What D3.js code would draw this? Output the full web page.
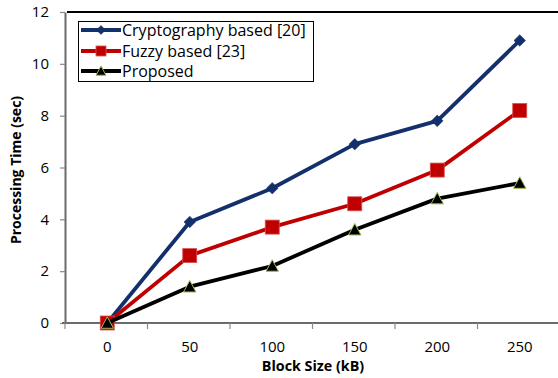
<!DOCTYPE html>
<html>
<head>
<meta charset="utf-8">
<script src="https://cdn.jsdelivr.net/npm/d3@7"></script>
<style>
  html, body { margin: 0; padding: 0; background: #fff; }
  svg { display: block; font-family: "Open Sans", sans-serif; }
</style>
</head>
<body>
<svg id="chart" width="558" height="378"></svg>
<script>
const categories = ["0", "50", "100", "150", "200", "250"];
const cryptoValues = [0, 3.9, 5.2, 6.9, 7.8, 10.9];
const fuzzyValues = [0, 2.6, 3.7, 4.6, 5.9, 8.2];
const proposedValues = [0, 1.4, 2.2, 3.6, 4.8, 5.4];
const yTickValues = [0, 2, 4, 6, 8, 10, 12];
const seriesNames = ["Cryptography based [20]", "Fuzzy based [23]", "Proposed"];
const xTitle = "Block Size (kB)";
const yTitle = "Processing Time (sec)";

const series = [
  { name: seriesNames[0], values: cryptoValues, color: "#13306c", marker: "diamond" },
  { name: seriesNames[1], values: fuzzyValues, color: "#c00000", marker: "square" },
  { name: seriesNames[2], values: proposedValues, color: "#000000", marker: "triangle" }
];

const svg = d3.select("#chart");
const plotLeft = 66, plotRight = 561, plotTop = 12, plotBottom = 323;

const x = d3.scaleBand().domain(categories).range([plotLeft, plotRight]).padding(0);
const y = d3.scaleLinear().domain([0, 12]).range([plotBottom, plotTop]);

// top border
svg.append("line").attr("x1", plotLeft + 1).attr("x2", 558).attr("y1", plotTop).attr("y2", plotTop)
  .attr("stroke", "#000").attr("stroke-width", 2);

// Y axis
const yAxis = svg.append("g").attr("transform", `translate(${plotLeft - 1},0)`)
  .call(d3.axisLeft(y).tickValues(yTickValues).tickSize(5).tickSizeOuter(0).tickPadding(11).tickFormat(d3.format("d")));
yAxis.select(".domain").attr("stroke", "#6b6b6b").attr("stroke-width", 2);
yAxis.selectAll(".tick line").attr("stroke", "#8a8a8a").attr("stroke-width", 1.2);
yAxis.selectAll(".tick text").attr("font-size", 15).attr("fill", "#000").attr("font-family", "Open Sans");

// X axis with ticks at band boundaries
const xAxisG = svg.append("g").attr("transform", `translate(0,${plotBottom})`);
xAxisG.append("line").attr("x1", plotLeft - 4).attr("x2", 558).attr("y1", 0).attr("y2", 0)
  .attr("stroke", "#6b6b6b").attr("stroke-width", 2);
const boundaries = categories.map(c => x(c)).concat([x(categories[categories.length - 1]) + x.bandwidth()]);
xAxisG.selectAll(".bt").data(boundaries).enter().append("line")
  .attr("x1", d => d - 1).attr("x2", d => d - 1).attr("y1", 0).attr("y2", 6)
  .attr("stroke", "#8a8a8a").attr("stroke-width", 1.2);
xAxisG.selectAll(".xl").data(categories).enter().append("text")
  .attr("x", d => x(d) + x.bandwidth() / 2).attr("y", 29)
  .attr("text-anchor", "middle").attr("font-size", 15).attr("fill", "#000")
  .text(d => d);

// axis titles
svg.append("text").attr("x", 313).attr("y", 370.5).attr("text-anchor", "middle")
  .attr("font-size", 14.3).attr("font-weight", "bold").text(xTitle);
svg.append("text").attr("transform", "translate(21,170) rotate(-90)").attr("text-anchor", "middle")
  .attr("font-size", 14).attr("font-weight", "bold").text(yTitle);

function drawMarker(g, type, cx, cy, color, s) {
  if (type === "diamond") {
    g.append("path").attr("d", `M${cx},${cy - s}L${cx + s},${cy}L${cx},${cy + s}L${cx - s},${cy}Z`)
      .attr("fill", color).attr("stroke", color).attr("stroke-width", 0.5);
  } else if (type === "square") {
    g.append("rect").attr("x", cx - s).attr("y", cy - s).attr("width", 2 * s).attr("height", 2 * s)
      .attr("fill", color).attr("stroke", "#d65050").attr("stroke-width", 0.8);
  } else {
    g.append("path").attr("d", `M${cx},${cy - s}L${cx + s},${cy + s * 0.85}L${cx - s},${cy + s * 0.85}Z`)
      .attr("fill", "#000").attr("stroke", "#9bbb59").attr("stroke-width", 1);
  }
}
const markerSize = { diamond: 5.8, square: 7, triangle: 6.2 };

const line = d3.line().x((d, i) => x(categories[i]) + x.bandwidth() / 2).y(d => y(d));
series.forEach(s => {
  const g = svg.append("g");
  g.append("path").datum(s.values).attr("d", line).attr("fill", "none")
    .attr("stroke", s.color).attr("stroke-width", 3.8).attr("stroke-linejoin", "round");
  s.values.forEach((v, i) => {
    drawMarker(g, s.marker, x(categories[i]) + x.bandwidth() / 2, y(v), s.color, markerSize[s.marker]);
  });
});

// legend
const lg = svg.append("g");
lg.append("rect").attr("x", 78.5).attr("y", 21.5).attr("width", 235).attr("height", 60)
  .attr("fill", "#fff").attr("stroke", "#000").attr("stroke-width", 1);
const legendY = [30, 51, 71];
const legendMarker = { diamond: 4.5, square: 5, triangle: 5 };
series.forEach((s, i) => {
  const yy = legendY[i];
  lg.append("line").attr("x1", 81).attr("x2", 121).attr("y1", yy).attr("y2", yy)
    .attr("stroke", s.color).attr("stroke-width", 3.8);
  drawMarker(lg, s.marker, 101, yy, s.color, legendMarker[s.marker]);
  lg.append("text").attr("x", 122).attr("y", yy).attr("dy", "0.35em")
    .attr("font-size", 16).attr("fill", "#000").text(s.name);
});
</script>
</body>
</html>
